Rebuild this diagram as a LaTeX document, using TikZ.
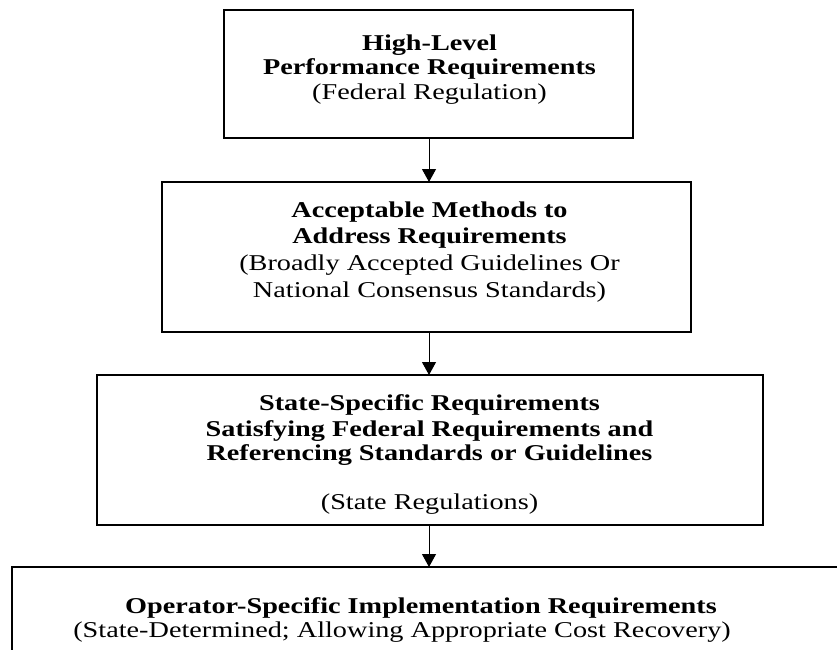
\documentclass[tikz,border=0pt]{standalone}
\usepackage{graphicx}
\usepackage{fontspec}
\setmainfont{Liberation Serif}
\usetikzlibrary{arrows.meta}
\newcommand{\diafont}{\fontsize{22.6}{26}\selectfont}
\newcommand{\wide}[1]{\scalebox{1.25}[1]{#1}}
\tikzset{
  box/.style={draw=black, line width=2.2pt, inner sep=0pt, outer sep=0pt, rectangle},
  txt/.style={anchor=base, inner sep=0pt, outer sep=0pt, font=\diafont},
  btxt/.style={txt, font=\diafont\bfseries},
  arr/.style={draw=black, line width=1pt, -{Triangle[width=14pt,length=13pt]}}
}
\begin{document}
\begin{tikzpicture}[x=1pt,y=-1pt]
\useasboundingbox (0,0) rectangle (837,649);
\clip (0,0) rectangle (837,649);
% boxes
\node[box, minimum width=409pt, minimum height=128pt] (b1) at (428.5,74) {};
\node[box, minimum width=529pt, minimum height=150pt] (b2) at (426.5,257) {};
\node[box, minimum width=666pt, minimum height=150pt] (b3) at (430,450) {};
\node[box, minimum width=848pt, minimum height=153pt] (b4) at (436,643.5) {};
% texts
\node[btxt] (t1a) at (429.5,50) {\wide{High-Level}};
\node[btxt] (t1b) at (429.5,74.5) {\wide{Performance Requirements}};
\node[txt]  (t1c) at (429.5,99.5) {\wide{(Federal Regulation)}};
\node[btxt] (t2a) at (429.5,217) {\wide{Acceptable Methods to}};
\node[btxt] (t2b) at (429.5,243.5) {\wide{Address Requirements}};
\node[txt]  (t2c) at (429.5,270.5) {\wide{(Broadly Accepted Guidelines Or}};
\node[txt]  (t2d) at (429.5,297) {\wide{National Consensus Standards)}};
\node[btxt] (t3a) at (429.5,410) {\wide{State-Specific Requirements}};
\node[btxt] (t3b) at (429.5,436) {\wide{Satisfying Federal Requirements and}};
\node[btxt] (t3c) at (429.5,460.5) {\wide{Referencing Standards or Guidelines}};
\node[txt]  (t3d) at (429.5,509) {\wide{(State Regulations)}};
\node[btxt] (t4a) at (421,613) {\wide{Operator-Specific Implementation Requirements}};
\node[txt]  (t4b) at (402,637) {\wide{(State-Determined; Allowing Appropriate Cost Recovery)}};
% arrows
\coordinate (ax) at (429,0);
\draw[arr] (ax |- b1.south) -- (ax |- b2.north);
\draw[arr] (ax |- b2.south) -- (ax |- b3.north);
\draw[arr] (ax |- b3.south) -- (ax |- b4.north);
\end{tikzpicture}
\end{document}
